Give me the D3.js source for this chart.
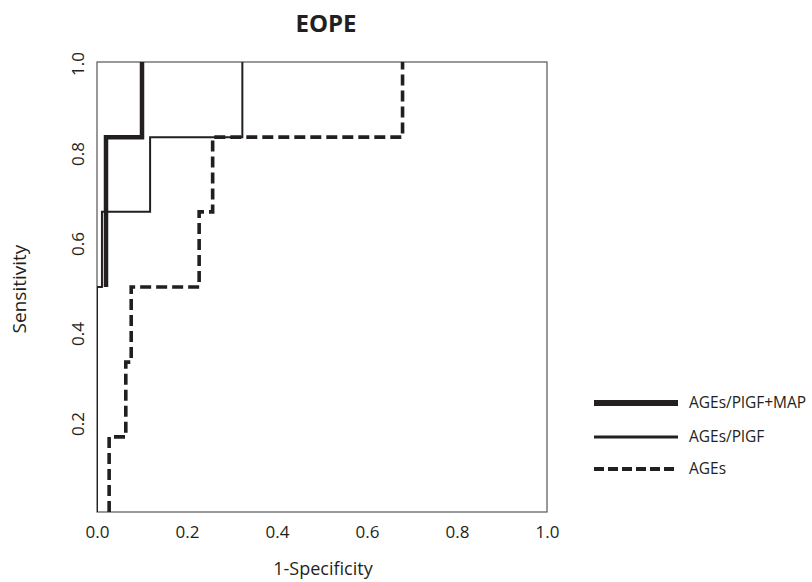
<!DOCTYPE html>
<html><head><meta charset="utf-8">
<script src="https://cdn.jsdelivr.net/npm/d3@7"></script>
<style>body{margin:0;background:#fff}svg{display:block}</style>
</head><body>
<svg id="c" width="812" height="582"></svg>
<script>
const title = "EOPE";
const xTicks = [0.0, 0.2, 0.4, 0.6, 0.8, 1.0];
const yTicks = [0.2, 0.4, 0.6, 0.8, 1.0];
const seriesNames = ["AGEs/PlGF+MAP", "AGEs/PlGF", "AGEs"];
// [1-specificity, sensitivity] step points
const rocCombined = [[0.02,0.5],[0.02,0.833],[0.1,0.833],[0.1,1]];
const rocPlgf = [[0,0],[0,0.5],[0.011,0.5],[0.011,0.667],[0.118,0.667],[0.118,0.833],[0.323,0.833],[0.323,1]];
const rocAges = [[0.027,0],[0.027,0.167],[0.064,0.167],[0.064,0.333],[0.076,0.333],[0.076,0.5],[0.227,0.5],[0.227,0.667],[0.257,0.667],[0.257,0.833],[0.679,0.833],[0.679,1]];

const svg = d3.select("#c");
const L = 97, R = 547, T = 62, B = 512;
const x = d3.scaleLinear().domain([0,1]).range([L,R]);
const y = d3.scaleLinear().domain([0,1]).range([B,T]);
const font = "'Open Sans', sans-serif";

svg.append("defs").append("clipPath").attr("id","clip")
  .append("rect").attr("x",L).attr("y",T).attr("width",R-L).attr("height",B-T);

svg.append("rect").attr("x",L).attr("y",T).attr("width",R-L).attr("height",B-T)
  .attr("fill","none").attr("stroke","#555").attr("stroke-width",1.2);

const styles = [
  {w:4.5, dash:null},
  {w:2, dash:null},
  {w:3.6, dash:"11,5"}
];
const line = d3.line().x(d=>x(d[0])).y(d=>y(d[1]));
const g = svg.append("g").attr("clip-path","url(#clip)");
[rocCombined, rocPlgf, rocAges].forEach((data,i)=>{
  g.append("path").attr("d", line(data)).attr("fill","none")
   .attr("stroke","#231f20").attr("stroke-width",styles[i].w)
   .attr("stroke-dasharray",styles[i].dash);
});

// x axis
const xa = svg.append("g").attr("transform",`translate(0,${B})`)
  .call(d3.axisBottom(x).tickValues(xTicks).tickSize(0).tickPadding(14).tickFormat(d3.format(".1f")));
xa.select(".domain").remove();
xa.selectAll("text").attr("font-family",font).attr("font-size",17).attr("fill","#231f20");

// y axis (rotated labels)
const ya = svg.append("g");
ya.selectAll("text").data(yTicks).join("text")
  .attr("transform",d=>`translate(84,${y(d)+2}) rotate(-90)`)
  .attr("text-anchor","middle").attr("font-family",font).attr("font-size",17).attr("fill","#231f20")
  .text(d=>d3.format(".1f")(d));

// titles
svg.append("text").attr("x",326).attr("y",32).attr("text-anchor","middle")
  .attr("font-family",font).attr("font-weight","bold").attr("font-size",24).attr("fill","#231f20").text(title);
svg.append("text").attr("x",323).attr("y",575).attr("text-anchor","middle")
  .attr("font-family",font).attr("font-size",18).attr("fill","#231f20").text("1-Specificity");
svg.append("text").attr("transform","translate(26,289) rotate(-90)").attr("text-anchor","middle")
  .attr("font-family",font).attr("font-size",19).attr("fill","#231f20").text("Sensitivity");

// legend
const ly = [403, 437, 469];
seriesNames.forEach((n,i)=>{
  svg.append("line").attr("x1",594).attr("x2",678).attr("y1",ly[i]).attr("y2",ly[i])
    .attr("stroke","#231f20").attr("stroke-width",[6,2.8,4][i])
    .attr("stroke-dasharray",i===2?"10,4":null);
  svg.append("text").attr("x",689).attr("y",ly[i]).attr("dy","0.35em")
    .attr("font-family",font).attr("font-size",15.5).attr("fill","#231f20").text(n);
});
</script>
</body></html>
